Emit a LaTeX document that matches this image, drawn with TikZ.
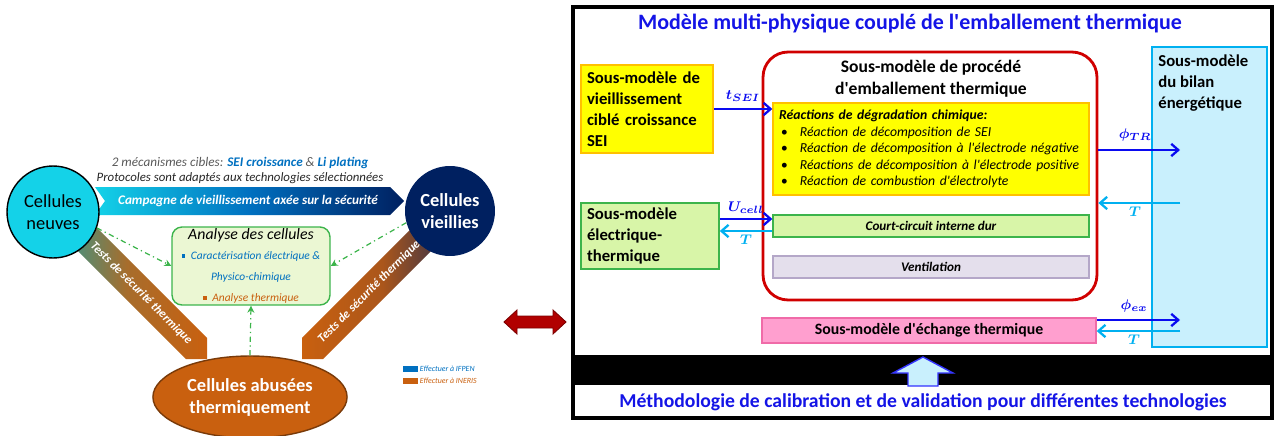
\documentclass[tikz,border=0pt]{standalone}
\usepackage{fontspec}
\setmainfont{Carlito}
\usepackage{amsmath}
\usetikzlibrary{arrows.meta,shapes.geometric}

\definecolor{cneuf}{HTML}{14D2E8}
\definecolor{bleuI}{HTML}{0070C0}
\definecolor{marine}{HTML}{002060}
\definecolor{orangeT}{HTML}{C9600F}
\definecolor{tealT}{HTML}{1FA0A0}
\definecolor{vertP}{HTML}{3CB44B}
\definecolor{vertC}{HTML}{EBF7D3}
\definecolor{bleuT}{HTML}{1414E6}
\definecolor{bleuF}{HTML}{0A0AF0}
\definecolor{cyanF}{HTML}{00B0F0}
\definecolor{jaune}{HTML}{FFFF00}
\definecolor{jauneB}{HTML}{FFC000}
\definecolor{vertB}{HTML}{D8F5A8}
\definecolor{mauve}{HTML}{E4DFEC}
\definecolor{mauveB}{HTML}{B4A7C8}
\definecolor{bleuC}{HTML}{C9F0FD}
\definecolor{rose}{HTML}{FF9FCF}
\definecolor{roseB}{HTML}{F06BA8}
\definecolor{rougeF}{HTML}{D00000}
\definecolor{grisT}{HTML}{595959}

\newcommand{\apos}{\textquotesingle}

\begin{document}
\begin{tikzpicture}[x=0.02cm, y=-0.02cm,
    smbox/.style={draw, line width=0.9pt, font=\fontsize{9.5}{12}\selectfont\bfseries,
      align=left, inner xsep=0.12cm, inner ysep=0pt},
    inbox/.style={draw, line width=0.8pt, minimum width=6.32cm, minimum height=0.44cm,
      font=\fontsize{7.5}{9}\selectfont\bfseries\itshape, inner sep=0pt},
    bleuarr/.style={draw=bleuF, line width=1.3pt, -{Straight Barb[length=4pt,width=7pt]}},
    cyanarr/.style={draw=cyanF, line width=1.3pt, -{Straight Barb[length=4pt,width=7pt]}},
    lab/.style={font=\fontsize{8.5}{9}\selectfont, inner sep=1.5pt},
    pointille/.style={draw=vertP, line width=0.7pt, dash dot, -{Stealth[length=4pt,width=4pt]}},
    bande/.style={font=\fontsize{7}{8}\selectfont\bfseries\itshape, text=white, inner sep=0pt}]
\useasboundingbox (0,0) rectangle (1275,436);

% partie gauche : campagne de vieillissement
\shade[left color=cneuf, right color=marine, middle color=bleuI]
  (95,187) -- (390,187) -- (404,201) -- (390,215) -- (95,215) -- (105,201) -- cycle;
\node[bande, font=\fontsize{7.5}{8}\selectfont\bfseries\itshape] (campagne) at (248,201)
  {Campagne de vieillissement axée sur la sécurité};
\node[font=\fontsize{7.5}{8}\selectfont\itshape, text=grisT] (mecan) at (240,163)
  {2 mécanismes cibles: {\bfseries\color{bleuI}SEI croissance} \& {\bfseries\color{bleuI}Li plating}};
\node[font=\fontsize{7.3}{8}\selectfont\itshape, text=black!85] (proto) at (240,178)
  {Protocoles sont adaptés aux technologies sélectionnées};

\begin{scope}[shift={(207,359)}, rotate=-45]
  \shade[left color=tealT, right color=orangeT, middle color=orangeT!80!tealT]
    (0,0) -- (-15,15) -- (-212,15) -- (-212,-15) -- (-15,-15) -- cycle;
  \node[bande, rotate=-45] (testsg) at (-93,0) {Tests de sécurité thermique};
\end{scope}
\begin{scope}[shift={(302,359)}, rotate=-135]
  \shade[left color=orangeT, right color=marine!85!orangeT, middle color=orangeT!85!marine]
    (0,0) -- (-15,15) -- (-212,15) -- (-212,-15) -- (-15,-15) -- cycle;
  \node[bande, rotate=45] (testsd) at (-95,0) {Tests de sécurité thermique};
\end{scope}

\node[circle, draw, line width=0.8pt, fill=cneuf, minimum size=1.84cm, align=center,
  font=\fontsize{10.5}{12.5}\selectfont, inner sep=0pt] (neuves) at (53,212) {Cellules\\neuves};
\node[circle, fill=marine, minimum size=1.8cm, align=center, text=white,
  font=\fontsize{10.5}{12.5}\selectfont\bfseries, inner sep=0pt] (vieillies) at (450,211) {Cellules\\vieillies};
\node[ellipse, draw=orangeT!60!black, line width=0.8pt, fill=orangeT, minimum width=3.8cm,
  minimum height=1.64cm, align=center, text=white, font=\fontsize{10.5}{12.5}\selectfont\bfseries]
  (abusees) at (250,397) {Cellules abusées\\thermiquement};

\node[draw=vertP, line width=0.8pt, fill=vertC, rounded corners=0.2cm, minimum width=3.16cm,
  minimum height=1.56cm, align=center, inner sep=1pt] (analyse) at (251,266)
  {{\fontsize{9}{11}\selectfont\itshape Analyse des cellules}\\[-1pt]
   {\fontsize{6.5}{7.8}\selectfont\itshape\color{bleuI}\rule[0.3ex]{2pt}{2pt}\enspace Caractérisation électrique \&}\\
   {\fontsize{6.5}{7.8}\selectfont\itshape\color{bleuI}Physico-chimique}\\
   {\fontsize{6.5}{7.8}\selectfont\itshape\color{orangeT}\rule[0.3ex]{2pt}{2pt}\enspace Analyse thermique}};

\draw[pointille] (neuves.-20) -- (analyse.west);
\draw[pointille] (vieillies.195) -- (analyse.east);
\draw[pointille] (abusees.north) -- (analyse.south);

% legende
\node[fill=bleuI, minimum width=0.3cm, minimum height=0.13cm, inner sep=0pt] (legA) at (410,369) {};
\node[fill=orangeT, minimum width=0.3cm, minimum height=0.13cm, inner sep=0pt] (legB) at (410,381) {};
\node[anchor=west, font=\fontsize{4.5}{5}\selectfont\itshape, text=bleuI, inner sep=1pt] (legAt) at (legA.east) {Effectuer à IFPEN};
\node[anchor=west, font=\fontsize{4.5}{5}\selectfont\itshape, text=orangeT, inner sep=1pt] (legBt) at (legB.east) {Effectuer à INERIS};

% double fleche
\draw[fill=rougeF!85!black, draw=rougeF!60!black, line width=0.5pt]
  (504,322) -- (517,310) -- (517,316) -- (553,316) -- (553,310) -- (566,322)
  -- (553,334) -- (553,328) -- (517,328) -- (517,334) -- cycle;

% partie droite : modele couple
\fill (573,355) rectangle (1272,385);
\draw[line width=1.8pt] (573,7) rectangle (1272,418);
\node[font=\fontsize{12.5}{14}\selectfont\bfseries, text=bleuT] (titre) at (910,24)
  {Modèle multi-physique couplé de l\apos emballement thermique};
\node[font=\fontsize{11.2}{13}\selectfont\bfseries, text=bleuT] (methode) at (923,402)
  {Méthodologie de calibration et de validation pour différentes technologies};
\draw[fill=bleuC, draw=blue!80, line width=0.8pt]
  (908,386) -- (908,373) -- (893,373) -- (923,357) -- (953,373) -- (938,373) -- (938,386) -- cycle;

\node[smbox, fill=jaune, draw=jauneB, text width=2.4cm, minimum height=1.76cm] (sei) at (647,109)
  {Sous-modèle de\\vieillissement\\ciblé croissance\\SEI};
\node[smbox, fill=vertB, draw=vertP, text width=2.52cm, minimum height=1.32cm] (elec) at (650,236)
  {Sous-modèle\\électrique-\\thermique};

\node[draw=rougeF, line width=1.6pt, rounded corners=0.5cm, minimum width=6.68cm,
  minimum height=4.96cm] (proc) at (930,176) {};
\node[font=\fontsize{10}{12.5}\selectfont\bfseries, align=center] (proctitre) at (931,79)
  {Sous-modèle de procédé\\d\apos emballement thermique};
\node[draw=jauneB, line width=0.8pt, fill=jaune, minimum height=1.84cm, text width=6.08cm,
  inner xsep=0.12cm, align=left, font=\fontsize{7.8}{9.4}\selectfont\itshape] (reac) at (931,149)
  {\textbf{Réactions de dégradation chimique:}\\
   \hspace*{1pt}\textbullet\hspace{7pt}Réaction de décomposition de SEI\\
   \hspace*{1pt}\textbullet\hspace{7pt}Réaction de décomposition à l\apos électrode négative\\
   \hspace*{1pt}\textbullet\hspace{7pt}Réactions de décomposition à l\apos électrode positive\\
   \hspace*{1pt}\textbullet\hspace{7pt}Réaction de combustion d\apos électrolyte};
\node[inbox, fill=vertB, draw=vertP] (court) at (931,226) {Court-circuit interne dur};
\node[inbox, fill=mauve, draw=mauveB] (vent) at (931,267) {Ventilation};

\node[draw=cyanF, line width=0.9pt, fill=bleuC, minimum width=2.3cm, minimum height=6cm] (bilan) at (1209.5,197) {};
\node[anchor=north west, align=left, font=\fontsize{9.5}{12}\selectfont\bfseries, inner sep=0pt]
  (bilantxt) at (1158,54) {Sous-modèle\\du bilan\\énergétique};
\node[draw=roseB, line width=0.8pt, fill=rose, minimum width=6.68cm, minimum height=0.5cm,
  font=\fontsize{9}{10}\selectfont\bfseries, inner sep=0pt] (echange) at (929,330.5) {Sous-modèle d\apos échange thermique};

% couplages
\coordinate (trin) at (1180,150);
\coordinate (tin) at (1180,203);
\coordinate (exin) at (1180,320);
\coordinate (tex) at (1180,331);
\draw[bleuarr] (sei.east) -- node[lab, above, yshift=2pt, text=bleuF] {$\boldsymbol{t_{SEI}}$} (sei.east -| reac.west);
\draw[bleuarr] ([yshift=0.14cm]court.west -| elec.east) -- node[lab, above, yshift=1pt, text=bleuF] {$\boldsymbol{U_{cell}}$} ([yshift=0.14cm]court.west);
\draw[cyanarr] ([yshift=-0.1cm]court.west) -- node[lab, below, text=cyanF] {$\boldsymbol{T}$} ([yshift=-0.1cm]court.west -| elec.east);
\draw[bleuarr] (trin -| proc.east) -- node[lab, above, yshift=3pt, pos=0.45, text=bleuF] {$\boldsymbol{\phi_{TR}}$} (trin);
\draw[cyanarr] (tin) -- node[lab, below, pos=0.55, text=cyanF] {$\boldsymbol{T}$} (tin -| proc.east);
\draw[bleuarr] (exin -| echange.east) -- node[lab, above, yshift=2pt, pos=0.45, text=bleuF] {$\boldsymbol{\phi_{ex}}$} (exin);
\draw[cyanarr] (tex) -- node[lab, below, pos=0.55, text=cyanF] {$\boldsymbol{T}$} (tex -| echange.east);
\end{tikzpicture}
\end{document}
